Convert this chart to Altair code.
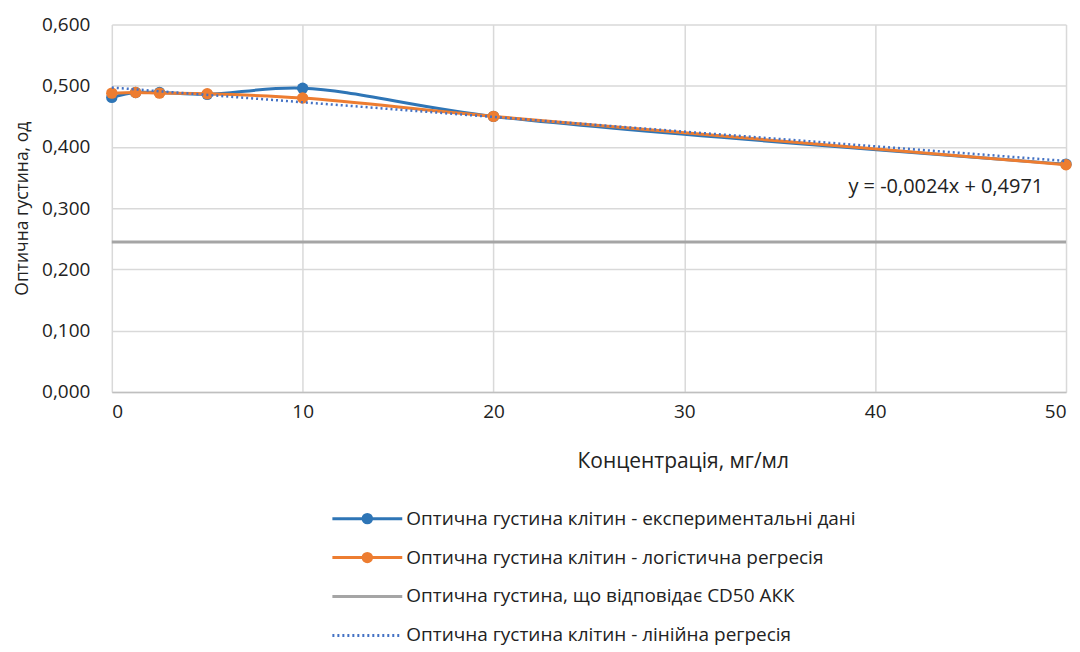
import altair as alt
import pandas as pd

# ---- data ----
conc = [0, 1.25, 2.5, 5, 10, 20, 50]
od_experimental = [0.481, 0.489, 0.489, 0.486, 0.496, 0.450, 0.372]
od_logistic = [0.488, 0.489, 0.488, 0.487, 0.480, 0.450, 0.371]
cd50_x = [0, 50]
cd50_y = [0.245, 0.245]
trend_x = [0, 50]
trend_y = [0.4971, 0.3771]
eq_x = [43.7]
eq_y = [0.335]
eq_text = ["y = -0,0024x + 0,4971"]

legend_labels = [
    "Оптична густина клітин - експериментальні дані",
    "Оптична густина клітин - логістична регресія",
    "Оптична густина, що відповідає CD50 АКК",
    "Оптична густина клітин - лінійна регресія",
]
legend_colors = ["#2E75B6", "#ED7D31", "#A5A5A5", "#4472C4"]
legend_marker = [True, True, False, False]
legend_dash = [[1, 0], [1, 0], [1, 0], [2, 3]]

FONT = "Open Sans, sans-serif"
BLUE, ORANGE, GREY, DOT = legend_colors

df_exp = pd.DataFrame({"x": conc, "y": od_experimental})
df_log = pd.DataFrame({"x": conc, "y": od_logistic})
df_cd = pd.DataFrame({"x": cd50_x, "y": cd50_y})
df_tr = pd.DataFrame({"x": trend_x, "y": trend_y})
df_eq = pd.DataFrame({"x": eq_x, "y": eq_y, "t": eq_text})

xs = alt.Scale(domain=[0, 50], nice=False)
ys = alt.Scale(domain=[0, 0.6], nice=False)

X = alt.X("x:Q", scale=xs, title="Концентрація, мг/мл",
          axis=alt.Axis(values=[0, 10, 20, 30, 40, 50], grid=True, gridColor="#d9d9d9",
                        gridWidth=1.5, domainColor="#bfbfbf", domainWidth=1.5, ticks=False,
                        labelFontSize=19, labelPadding=11, labelColor="#222", labelFont=FONT,
                        titleFontSize=21, titleFont=FONT, titleColor="#222", titleFontWeight="normal",
                        titleX=572, titleY=70, titleAlign="center", titleBaseline="middle"))
Y = alt.Y("y:Q", scale=ys, title="Оптична густина, од",
          axis=alt.Axis(values=[0, 0.1, 0.2, 0.3, 0.4, 0.5, 0.6], grid=True, gridColor="#d9d9d9",
                        gridWidth=1.5, domain=False, ticks=False,
                        labelExpr="replace(format(datum.value, '.3f'), '.', ',')",
                        labelFontSize=19, labelPadding=22, labelColor="#222", labelFont=FONT,
                        titleFontSize=17.5, titleFont=FONT, titleColor="#222", titleFontWeight="normal",
                        titlePadding=10))

blue_line = alt.Chart(df_exp).mark_line(color=BLUE, strokeWidth=3, interpolate="catmull-rom").encode(x=X, y=Y)
blue_pts = alt.Chart(df_exp).mark_circle(color=BLUE, size=130, opacity=1).encode(x=X, y=Y)
orange_line = alt.Chart(df_log).mark_line(color=ORANGE, strokeWidth=3, interpolate="catmull-rom").encode(x=X, y=Y)
orange_pts = alt.Chart(df_log).mark_circle(color=ORANGE, size=130, opacity=1).encode(x=X, y=Y)
grey_line = alt.Chart(df_cd).mark_line(color=GREY, strokeWidth=3).encode(x=X, y=Y)
trend = alt.Chart(df_tr).mark_line(color=DOT, strokeWidth=2.5, strokeDash=[2, 3]).encode(x=X, y=Y)
eq = alt.Chart(df_eq).mark_text(fontSize=20, font=FONT, color="#222").encode(x=X, y=Y, text="t:N")

main = alt.layer(blue_line, blue_pts, orange_line, orange_pts, grey_line, trend, eq).properties(
    width=956, height=368)

# ---- legend panel ----
df_leg = pd.DataFrame({"label": legend_labels, "marker": legend_marker})
ly = alt.Y("label:N", sort=legend_labels, axis=None, scale=alt.Scale(type="point", padding=0))
lc = alt.Color("label:N", scale=alt.Scale(domain=legend_labels, range=legend_colors), legend=None)
ld = alt.StrokeDash("label:N", scale=alt.Scale(domain=legend_labels, range=legend_dash), legend=None)

leg_base = alt.Chart(df_leg)
leg_rule = leg_base.mark_rule(strokeWidth=3).encode(
    x=alt.value(221), x2=alt.value(291), y=ly, color=lc, strokeDash=ld)
leg_pt = leg_base.transform_filter("datum.marker").mark_circle(size=130, opacity=1).encode(
    x=alt.value(256), y=ly, color=lc)
leg_txt = leg_base.mark_text(align="left", fontSize=19, font=FONT, color="#222").encode(
    x=alt.value(295), y=ly, text="label:N")
legend = alt.layer(leg_rule, leg_pt, leg_txt).properties(width=956, height=117)

chart = alt.vconcat(main, legend, spacing=38).properties(
    padding={"left": 5, "top": 7, "right": 0, "bottom": 0}, background="white"
).configure_view(strokeWidth=0)

chart.save("out.html", embed_options={"renderer": "svg", "actions": False})
